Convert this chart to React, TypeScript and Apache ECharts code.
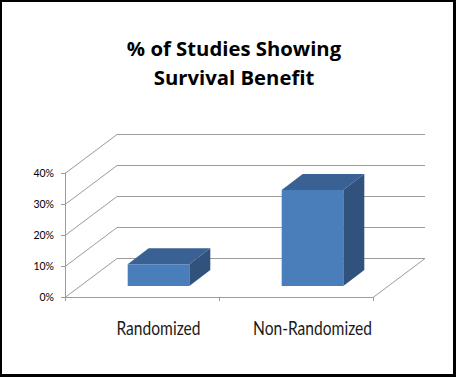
import React, { useEffect, useRef } from "react";
import * as echarts from "echarts";

const TITLE_LINES = ["% of Studies Showing", "Survival Benefit"];
const CATEGORIES = ["Randomized", "Non-Randomized"];
const VALUES = [0.07, 0.31];
const Y_TICKS = [0, 0.1, 0.2, 0.3, 0.4];

const W = 456;
const H = 377;
// oblique depth of the whole plot box
const DX = 52;
const DY = -39;
// bar placement in depth
const BAR_OFF_X = 16.5;
const BAR_OFF_Y = -11;
const BAR_DX = 21;
const BAR_DY = -16;
const BAR_RATIO = 0.4;

const GRID_COLOR = "#9c9c9c";
const FRONT = "#4a7ebb";
const TOP = "#3a6193";
const SIDE = "#30527d";

export default function App() {
  const ref = useRef<HTMLDivElement>(null);
  useEffect(() => {
    if (!ref.current) return;
    const chart = echarts.init(ref.current, null, { renderer: "svg" });
    const option: any = {
      animation: false,
      backgroundColor: "#ffffff",
      title: {
        text: TITLE_LINES.join("\n"),
        left: 234,
        top: 33,
        textAlign: "center",
        padding: 0,
        textStyle: {
          fontFamily: "'Open Sans', Lato, sans-serif",
          fontWeight: "bold",
          fontSize: 20.3,
          lineHeight: 29,
          color: "#000",
        },
      },
      graphic: [
        { type: "rect", shape: { x: 0, y: 0, width: W, height: 2 }, style: { fill: "#000" } },
        { type: "rect", shape: { x: 0, y: 0, width: 2, height: H }, style: { fill: "#000" } },
        { type: "rect", shape: { x: W - 3, y: 0, width: 3, height: H }, style: { fill: "#000" } },
        { type: "rect", shape: { x: 0, y: H - 3, width: W, height: 3 }, style: { fill: "#000" } },
      ],
      grid: { left: 65, top: 173, width: 308, height: 124, containLabel: false },
      xAxis: {
        type: "category",
        data: CATEGORIES,
        axisLine: { show: true, lineStyle: { color: GRID_COLOR, width: 1 } },
        axisTick: { show: true, length: 4, lineStyle: { color: GRID_COLOR } },
        splitLine: { show: false },
        axisLabel: { show: false },
      },
      yAxis: {
        type: "value",
        min: 0,
        max: 0.4,
        interval: 0.1,
        axisLine: { show: true, lineStyle: { color: GRID_COLOR, width: 1 } },
        axisTick: { show: true, length: 4, lineStyle: { color: GRID_COLOR } },
        splitLine: { show: false },
        axisLabel: {
          margin: 11,
          formatter: (v: number) => Math.round(v * 100) + "%",
          fontFamily: "Lato, sans-serif",
          fontSize: 10.5,
          color: "#000",
        },
      },
      series: [
        {
          type: "custom",
          name: "walls",
          silent: true,
          z: 1,
          clip: false,
          data: Y_TICKS.map((v) => [0, v]),
          encode: { x: 0, y: 1 },
          renderItem: (params: any, api: any) => {
            const v = api.value(1);
            const cs = params.coordSys;
            const x0 = cs.x;
            const wdt = cs.width;
            const y = Math.round(api.coord([0, v])[1]) + 0.5;
            const children: any[] = [
              {
                type: "polyline",
                shape: {
                  points: [
                    [x0, y],
                    [x0 + DX, y + DY],
                    [x0 + wdt + DX, y + DY],
                  ],
                },
                style: { stroke: GRID_COLOR, lineWidth: 1, fill: "none" },
              },
            ];
            if (v === 0) {
              children.push({
                type: "line",
                shape: { x1: x0 + wdt, y1: y, x2: x0 + wdt + DX, y2: y + DY },
                style: { stroke: GRID_COLOR, lineWidth: 1 },
              });
            }
            return { type: "group", children };
          },
        },
        {
          type: "custom",
          name: "categoryLabels",
          silent: true,
          z: 2,
          clip: false,
          data: CATEGORIES.map((c, i) => [i, 0]),
          encode: { x: 0, y: 1 },
          renderItem: (params: any, api: any) => {
            const i = api.value(0);
            const p = api.coord([i, 0]);
            return {
              type: "text",
              x: p[0] + BAR_OFF_X,
              y: p[1] + 31,
              scaleX: 0.8,
              style: {
                text: CATEGORIES[i],
                fontFamily: "Lato, sans-serif",
                fontSize: 19.5,
                fill: "#1a1a1a",
                align: "center",
                verticalAlign: "middle",
              },
            };
          },
        },
        {
          type: "custom",
          name: "bars",
          z: 3,
          data: VALUES.map((v, i) => [i, v]),
          encode: { x: 0, y: 1 },
          renderItem: (params: any, api: any) => {
            const i = api.value(0);
            const v = api.value(1);
            const top = api.coord([i, v]);
            const base = api.coord([i, 0]);
            const band = api.size([1, 0])[0];
            const bw = band * BAR_RATIO;
            const xl = top[0] - bw / 2 + BAR_OFF_X;
            const xr = xl + bw;
            const yt = top[1] + BAR_OFF_Y;
            const yb = base[1] + BAR_OFF_Y;
            return {
              type: "group",
              children: [
                {
                  type: "polygon",
                  shape: {
                    points: [
                      [xl, yt],
                      [xl + BAR_DX, yt + BAR_DY],
                      [xr + BAR_DX, yt + BAR_DY],
                      [xr, yt],
                    ],
                  },
                  style: { fill: TOP },
                },
                {
                  type: "polygon",
                  shape: {
                    points: [
                      [xr, yt],
                      [xr + BAR_DX, yt + BAR_DY],
                      [xr + BAR_DX, yb + BAR_DY],
                      [xr, yb],
                    ],
                  },
                  style: { fill: SIDE },
                },
                {
                  type: "rect",
                  shape: { x: xl, y: yt, width: bw, height: yb - yt },
                  style: { fill: FRONT },
                },
              ],
            };
          },
        },
      ],
    };
    chart.setOption(option);
    return () => chart.dispose();
  }, []);
  return (
    <div
      ref={ref}
      style={{ position: "absolute", left: 0, top: 0, width: W, height: H }}
    />
  );
}
